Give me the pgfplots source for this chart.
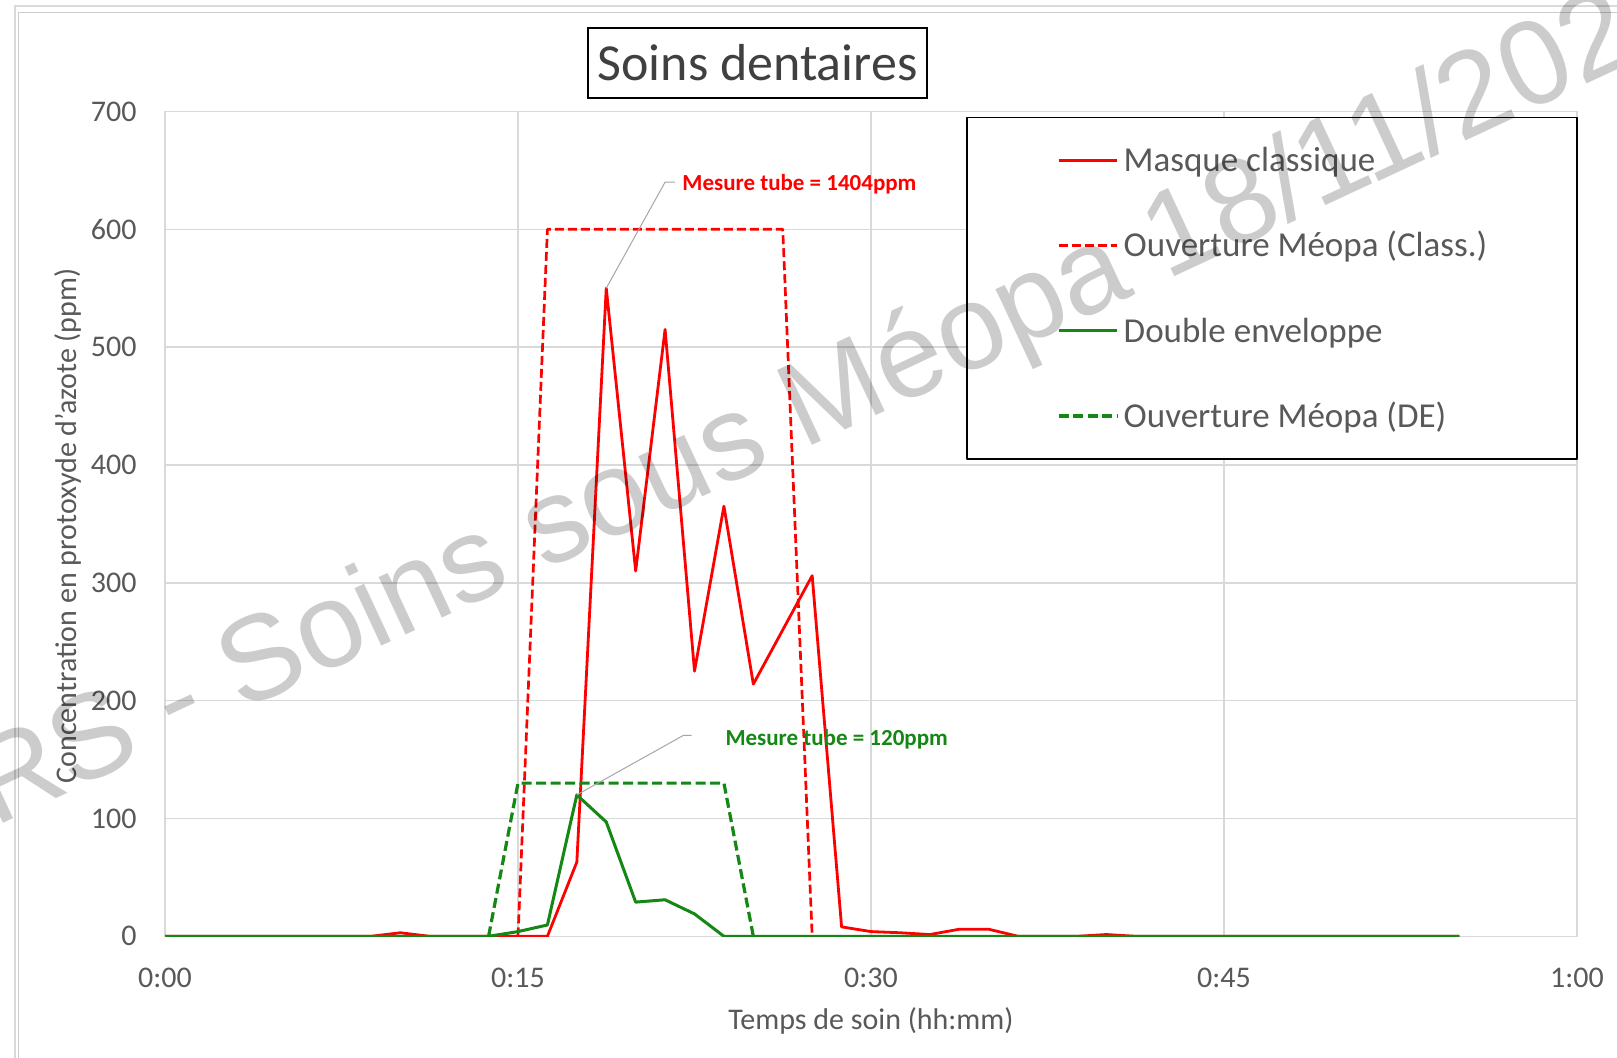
\documentclass[border=0pt]{standalone}
\usepackage{fontspec}
\setmainfont{Carlito}
\newfontfamily\wmfont{Liberation Sans}
\usepackage{pgfplots}
\pgfplotsset{compat=1.18}
\definecolor{myred}{RGB}{255,0,0}
\definecolor{mygreen}{RGB}{20,135,20}
\definecolor{txtgray}{RGB}{89,89,89}
\definecolor{titlegray}{RGB}{64,64,64}
\definecolor{gridgray}{RGB}{217,217,217}
\begin{document}
\begin{tikzpicture}
\useasboundingbox (0pt,-529pt) rectangle (808.5pt,0pt);
\begin{scope}[x=0.5pt,y=-0.5pt]
\fill[white] (0,0) rectangle (1617,1058);
\draw[gray!30, line width=0.6pt] (15,6) rectangle (1700,1100);
\draw[gray!40, line width=0.8pt] (18.3,12.7) rectangle (1700,1100);
\end{scope}
\begin{axis}[
  at={(82.5pt,-468.15pt)}, anchor=south west,
  scale only axis, width=706pt, height=412.45pt,
  xmin=0, xmax=60, ymin=0, ymax=700,
  xtick={0,15,30,45,60}, xticklabels={0:00,0:15,0:30,0:45,1:00},
  ytick={0,100,200,300,400,500,600,700},
  grid=major, major grid style={gridgray, line width=0.75pt},
  axis line style={gridgray, line width=0.75pt},
  tick style={draw=none},
  /pgf/number format/assume math mode=true,
  tick label style={font=\fontsize{15}{18}\selectfont, text=txtgray},
  xticklabel style={anchor=north, inner sep=0pt, yshift=-15.5pt},
  yticklabel style={anchor=east, inner sep=0pt, xshift=-14pt},
  xlabel={Temps de soin (hh:mm)},
  ylabel={Concentration en protoxyde d'azote (ppm)},
  label style={font=\fontsize{15}{18}\selectfont, text=txtgray},
  xlabel style={at={(axis description cs:0.5,0)}, anchor=base, yshift=-46.5pt},
  ylabel style={at={(axis description cs:-0.063,0.4975)}, anchor=base},
  legend style={at={(0.5673,0.9938)}, anchor=north west, draw=black, line width=0.9pt,
    fill=white, inner xsep=45pt, inner ysep=11.9pt, row sep=23.4pt,
    font=\fontsize{17.5}{21}\selectfont,
    nodes={inner sep=0pt, text height=15.2pt, text depth=4pt, text=txtgray},
    /tikz/every odd column/.append style={column sep=2.5pt}},
  legend cell align=left,
  legend image code/.code={\draw[#1] (0pt,0pt) -- (29.3pt,0pt);},
  line join=round,
]
\addplot[myred, line width=1.4pt] coordinates {
(0,0) (1.25,0) (2.5,0) (3.75,0) (5,0) (6.25,0) (7.5,0) (8.75,0) (10,3) (11.25,0)
(12.5,0) (13.75,0) (15,0) (16.25,0) (17.5,63) (18.75,550) (20,310) (21.25,515)
(22.5,225) (23.75,365) (25,214) (26.25,260) (27.5,306) (28.75,8) (30,4) (31.25,3)
(32.5,1.5) (33.75,6) (35,6) (36.25,0) (37.5,0) (38.75,0) (40,1.5) (41.25,0)
(42.5,0) (43.75,0) (45,0) (46.25,0) (47.5,0) (48.75,0) (50,0) (51.25,0) (52.5,0)
(53.75,0) (55,0)};
\addlegendentry{Masque classique}
\addplot[myred, line width=1.35pt, dash pattern=on 4.5pt off 2pt] coordinates {
(15,0) (16.25,600) (26.25,600) (27.5,0)};
\addlegendentry{Ouverture Méopa (Class.)}
\addplot[mygreen, line width=1.5pt] coordinates {
(0,0) (1.25,0) (2.5,0) (3.75,0) (5,0) (6.25,0) (7.5,0) (8.75,0) (10,0) (11.25,0)
(12.5,0) (13.75,0) (15,4) (16.25,9.6) (17.5,120) (18.75,97) (20,29) (21.25,31)
(22.5,19) (23.75,0) (25,0) (26.25,0) (27.5,0) (28.75,0) (30,0) (31.25,0) (32.5,0)
(33.75,0) (35,0) (36.25,0) (37.5,0) (38.75,0) (40,0) (41.25,0) (42.5,0) (43.75,0)
(45,0) (46.25,0) (47.5,0) (48.75,0) (50,0) (51.25,0) (52.5,0) (53.75,0) (55,0)};
\addlegendentry{Double enveloppe}
\addplot[mygreen, line width=1.6pt, dash pattern=on 5pt off 2.25pt] coordinates {
(13.75,0) (15,130) (23.75,130) (25,0)};
\addlegendentry{Ouverture Méopa (DE)}
\draw[gray!70, line width=0.5pt] (axis cs:18.75,550) -- (axis cs:21.25,640) -- (axis cs:21.67,640);
\node[anchor=west, inner sep=0pt, text=myred, font=\bfseries\fontsize{11.5}{13}\selectfont] at (axis cs:21.97,638) {Mesure tube = 1404ppm};
\draw[gray!70, line width=0.5pt] (axis cs:17.5,120) -- (axis cs:22.03,170.5) -- (axis cs:22.38,170.5);
\node[anchor=west, inner sep=0pt, text=mygreen, font=\bfseries\fontsize{11.5}{13}\selectfont] at (axis cs:23.8,167.5) {Mesure tube = 120ppm};
\end{axis}
\begin{scope}[x=0.5pt,y=-0.5pt]
\node[draw=black, line width=0.8pt, minimum width=169.5pt, minimum height=35pt, inner sep=0pt,
  text=titlegray, font=\fontsize{26}{30}\selectfont] at (757.5,63) {Soins dentaires};
\node[rotate=25, text=black, opacity=0.2, font=\wmfont\fontsize{60}{70}\selectfont] at (805,414) {RS - Soins sous Méopa 18/11/202};
\end{scope}
\end{tikzpicture}
\end{document}
